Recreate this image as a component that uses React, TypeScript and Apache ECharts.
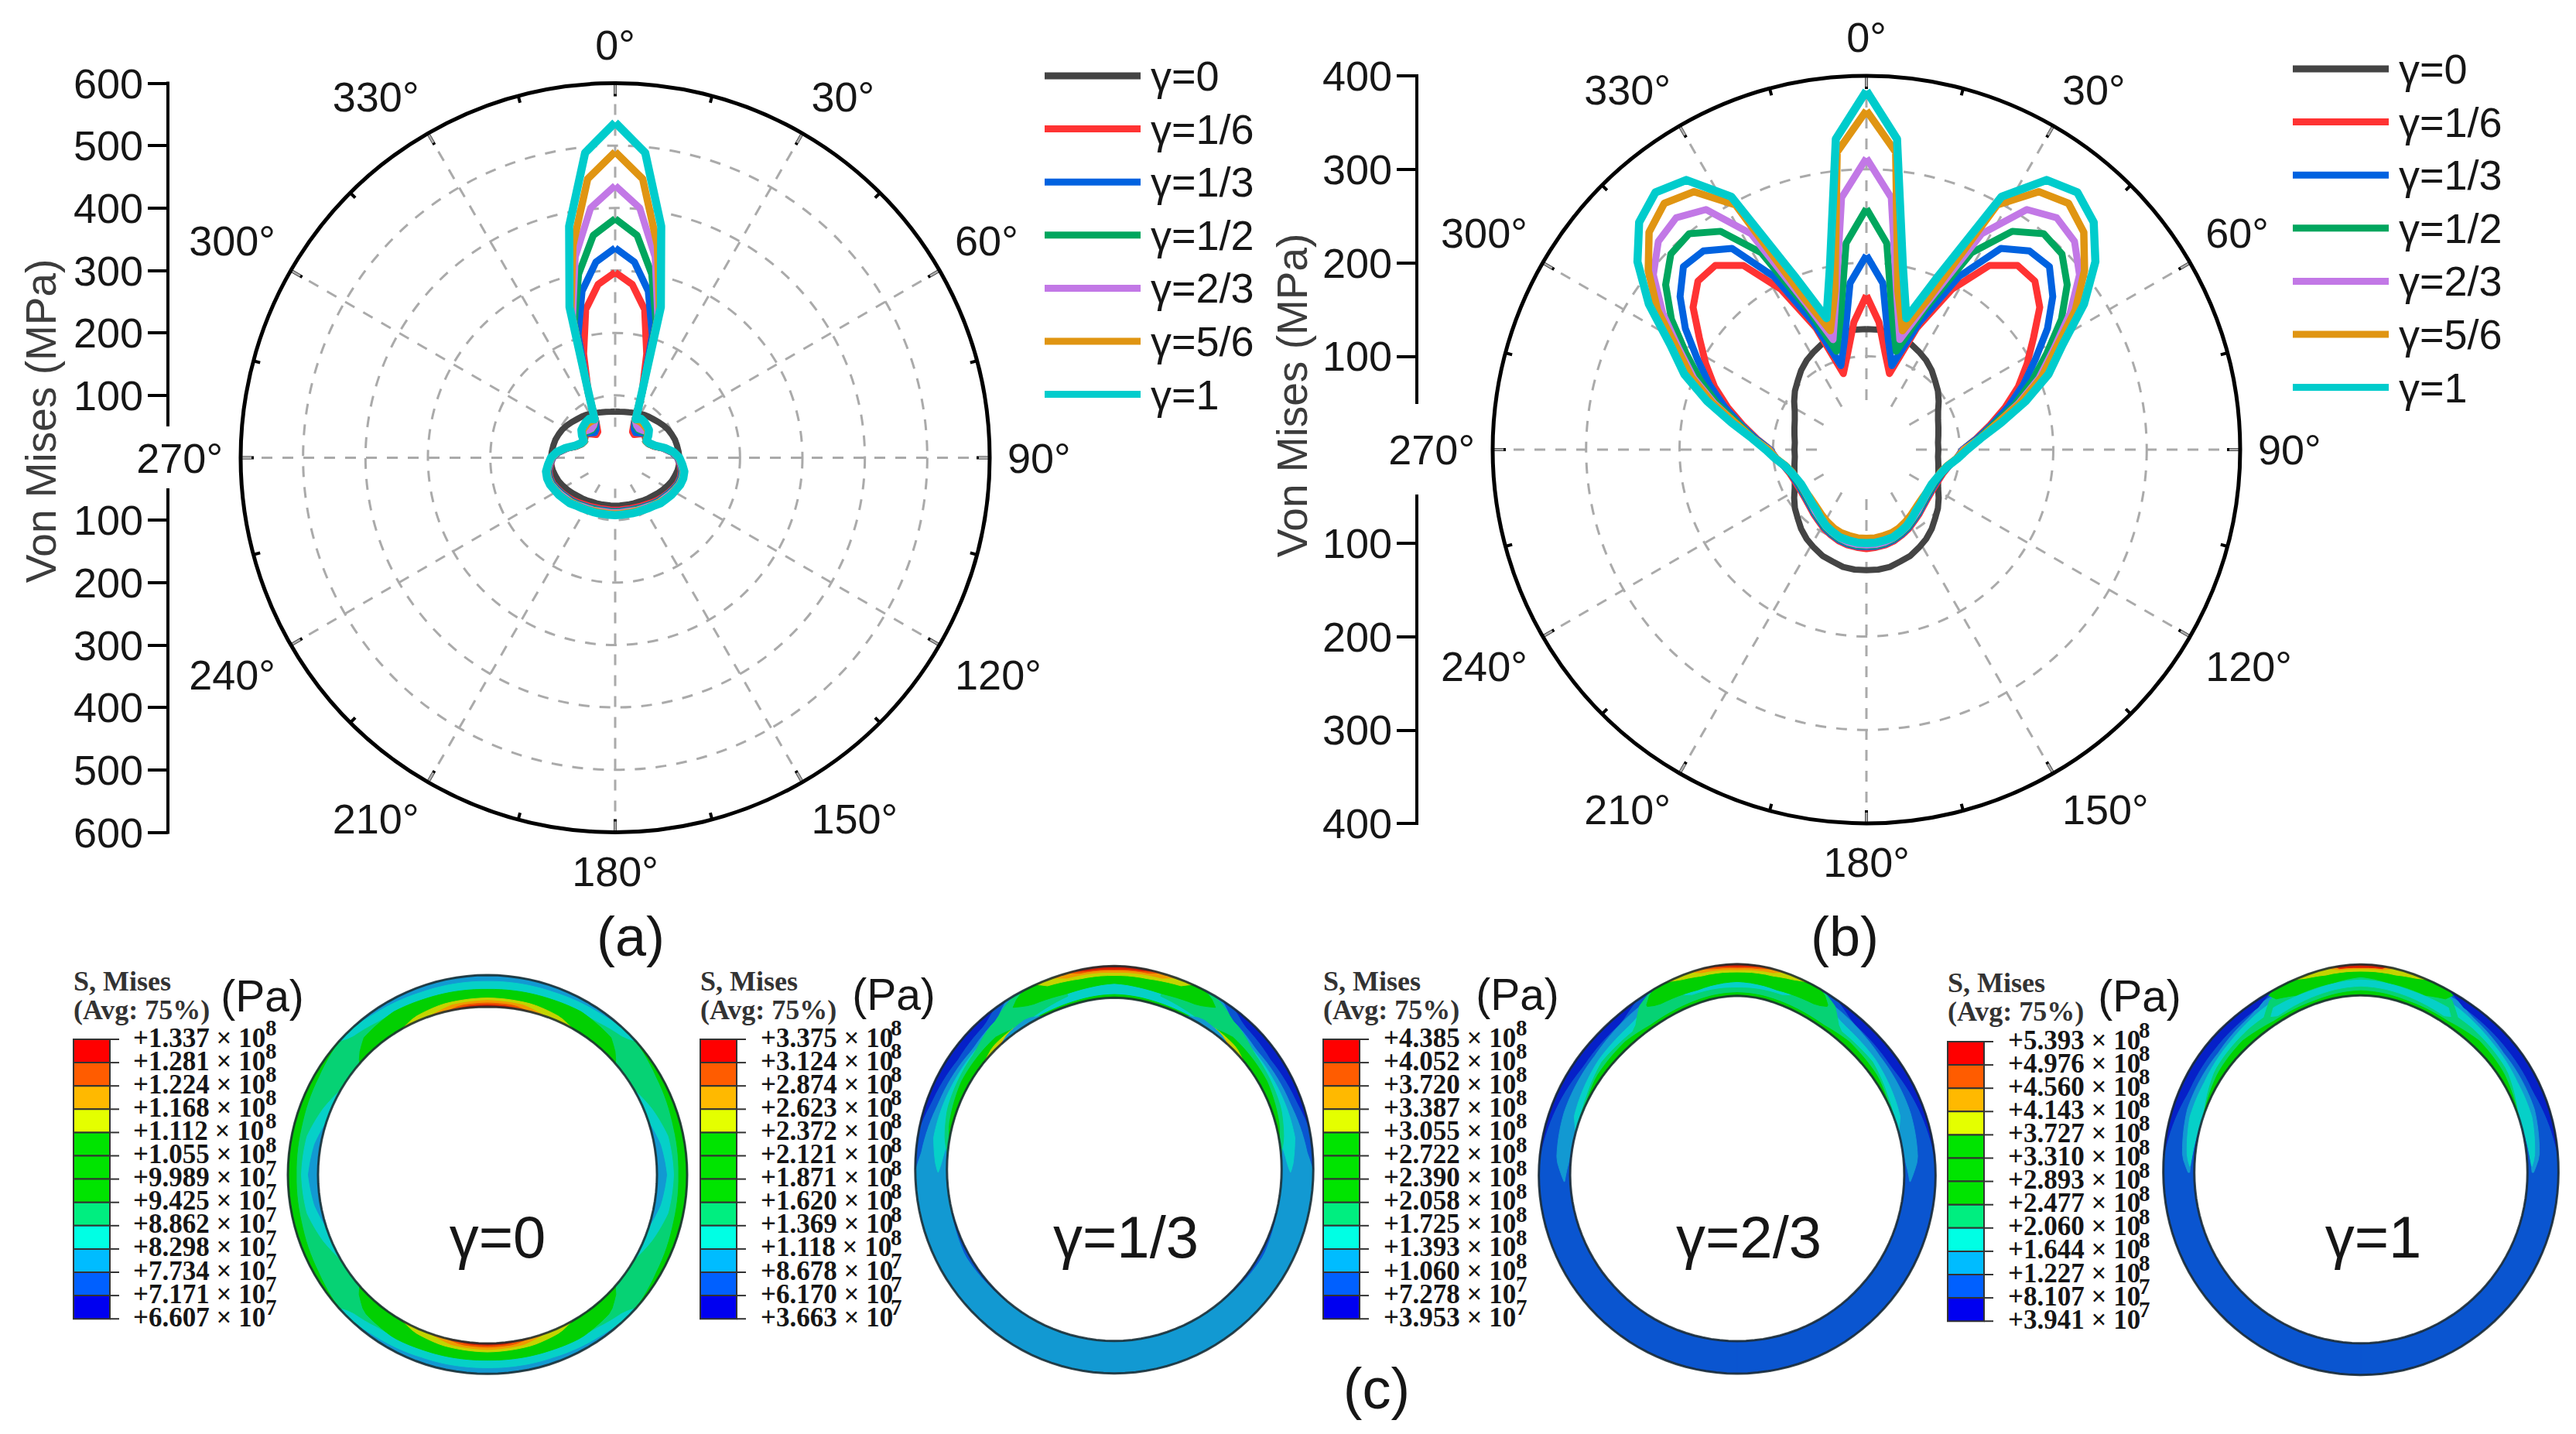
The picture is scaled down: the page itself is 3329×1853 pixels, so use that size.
import React, { useEffect, useRef } from "react";
import * as echarts from "echarts";

const seriesNames = ["γ=0", "γ=1/6", "γ=1/3", "γ=1/2", "γ=2/3", "γ=5/6", "γ=1"];
const seriesColors = ["#444444", "#ff3333", "#0062e0", "#00a65e", "#c278e6", "#e09512", "#00cccc"];
const seriesWidths = [8, 9, 9, 9, 9, 9.5, 10.5];

// half profile angles (deg); the measured curves are mirror-symmetric about 0-180 deg
const halfAngles = [0, 5.625, 11.25, 16.875, 22.5, 28.125, 33.75, 39.375, 45, 50.625, 56.25, 61.875, 67.5, 73.125, 78.75, 84.375, 90, 95.625, 101.25, 106.875, 112.5, 118.125, 123.75, 129.375, 135, 140.625, 146.25, 151.875, 157.5, 163.125, 168.75, 174.375, 180];

const panelA0 = [74, 74, 75, 76, 78, 80, 83, 85, 87, 90, 93, 96, 98, 100, 101, 102, 103, 103, 102, 100, 98, 95, 92, 89, 86, 84, 82, 80, 79, 78, 77, 77, 77];
const panelA16 = [297, 279, 242, 174, 112, 65, 50, 48, 54, 60, 58, 56, 58, 64, 78, 91, 100, 104, 108, 109, 108, 105, 102, 99, 96, 93, 90, 88, 86, 85, 84, 84, 84];
const panelA13 = [336, 315, 272, 205, 113, 66, 55, 52, 56, 62, 60, 56, 58, 65, 78, 91, 100, 105, 109, 110, 109, 106, 103, 100, 98, 95, 92, 90, 88, 87, 86, 86, 86];
const panelA12 = [383, 358, 300, 226, 112, 67, 60, 58, 60, 64, 60, 56, 58, 65, 79, 92, 101, 106, 110, 111, 110, 107, 104, 101, 99, 96, 93, 91, 89, 88, 87, 87, 87];
const panelA23 = [436, 402, 328, 235, 111, 68, 62, 60, 62, 66, 62, 56, 59, 66, 79, 92, 101, 106, 111, 112, 111, 108, 105, 102, 100, 97, 94, 92, 91, 89, 88, 88, 88];
const panelA56 = [490, 449, 347, 245, 111, 69, 70, 70, 69, 68, 62, 56, 59, 66, 80, 93, 102, 107, 112, 113, 112, 109, 107, 104, 101, 98, 96, 94, 92, 91, 90, 90, 90];
const panelA1 = [537, 491, 378, 252, 110, 70, 75, 74, 72, 70, 64, 57, 60, 67, 81, 94, 103, 108, 113, 114, 113, 110, 108, 105, 103, 99, 97, 95, 94, 93, 92, 92, 92];

const panelB0 = [129, 129, 128, 125, 123, 119, 115, 110, 104, 99, 93, 87, 83, 80.5, 78.5, 77, 77, 77, 78.5, 80.5, 83, 87, 93, 99, 104, 110, 115, 119, 123, 125, 128, 129, 129];
const panelB16 = [165, 137, 104, 85, 141, 195, 237, 255, 255, 240, 215, 195, 176, 155, 135, 118, 103, 97, 90, 86, 84, 83, 83, 84, 86, 89, 92, 96, 99, 102, 104, 105, 106];
const panelB13 = [208, 179, 120, 94, 147, 210, 259, 275, 277, 258, 233, 205, 182, 159, 137, 119, 103, 97, 90, 85, 83, 82, 82, 83, 85, 88, 91, 95, 98, 101, 103, 104, 104];
const panelB12 = [258, 222, 143, 110, 162, 239, 281, 299, 296, 278, 251, 219, 192, 166, 139, 121, 104, 97, 89, 85, 82, 81, 81, 82, 84, 87, 90, 94, 97, 100, 102, 103, 103];
const panelB23 = [312, 271, 167, 123, 170, 262, 309, 321, 315, 295, 262, 227, 200, 170, 142, 122, 104, 97, 89, 84, 81, 80, 80, 81, 83, 86, 89, 93, 96, 99, 101, 102, 102];
const panelB56 = [363, 320, 173, 133, 177, 297, 332, 341, 329, 302, 269, 230, 203, 172, 142, 122, 105, 97, 88, 83, 81, 79, 79, 79, 80, 82, 85, 88, 91, 93, 94, 95, 95];
const panelB1 = [384, 334, 200, 147, 201, 307, 347, 356, 344, 317, 280, 238, 211, 178, 147, 123, 108, 98, 89, 84, 81, 79, 79, 80, 82, 84, 88, 92, 95, 98, 99, 100, 100];

const panelAValues = [panelA0, panelA16, panelA13, panelA12, panelA23, panelA56, panelA1];
const panelBValues = [panelB0, panelB16, panelB13, panelB12, panelB23, panelB56, panelB1];

// contour legend columns (Pa): mantissa and power of ten
const mantissas1 = ["1.337", "1.281", "1.224", "1.168", "1.112", "1.055", "9.989", "9.425", "8.862", "8.298", "7.734", "7.171", "6.607"];
const exponents1 = [8, 8, 8, 8, 8, 8, 7, 7, 7, 7, 7, 7, 7];
const mantissas2 = ["3.375", "3.124", "2.874", "2.623", "2.372", "2.121", "1.871", "1.620", "1.369", "1.118", "8.678", "6.170", "3.663"];
const exponents2 = [8, 8, 8, 8, 8, 8, 8, 8, 8, 8, 7, 7, 7];
const mantissas3 = ["4.385", "4.052", "3.720", "3.387", "3.055", "2.722", "2.390", "2.058", "1.725", "1.393", "1.060", "7.278", "3.953"];
const exponents3 = [8, 8, 8, 8, 8, 8, 8, 8, 8, 8, 8, 7, 7];
const mantissas4 = ["5.393", "4.976", "4.560", "4.143", "3.727", "3.310", "2.893", "2.477", "2.060", "1.644", "1.227", "8.107", "3.941"];
const exponents4 = [8, 8, 8, 8, 8, 8, 8, 8, 8, 8, 8, 7, 7];

const legendCells = ["#ff0000", "#ff5c00", "#ffb900", "#e4ff00", "#00e400", "#00e400", "#00e400", "#00ee80", "#00ffe4", "#00bcff", "#0060ff", "#0000f0"];
const ringColors = ["#d81e00", "#ee5400", "#f09a00", "#c4d400", "#02d002", "#06d274", "#06d0c8", "#1299d2", "#0a55d0", "#0620c8"];

const ringKeys = [0, 8, 15, 25, 35, 50, 70, 90, 110, 135, 160, 180];
const ringOuter0 = [258, 258, 258, 258, 258, 258, 258, 258, 258, 258, 258, 257];
const ringInner0 = [217, 217, 218, 218, 219, 219, 219, 219, 219, 219, 218, 218];
const ringOuter13 = [264, 262, 260, 259, 259, 259, 258, 257, 258, 260, 263, 264];
const ringInner13 = [223, 221, 219, 218, 218, 218, 217, 216, 217, 219, 221, 222];
const ringOuter23 = [275, 272, 269, 263, 258, 256, 256, 256.5, 256, 256, 256, 256];
const ringInner23 = [234, 231, 227, 222, 218, 216, 216, 216, 215, 214, 214, 214];
const ringOuter1 = [270, 268, 265, 261, 259, 259, 257, 255, 256, 258, 261, 262];
const ringInner1 = [230, 228, 226, 222, 219, 218, 216, 215, 216, 218, 220, 221];

type Band = [number, number[][]];
// [colour index, [angle from top, inner fraction, outer fraction]...]
const bands0: Band[] = [
  [5, [[0, 0, 1], [180, 0, 1]]],
  [7, [[0, 0.76, 1], [20, 0.8, 1], [35, 0.88, 1], [42, 1, 1]]],
  [7, [[138, 1, 1], [145, 0.88, 1], [160, 0.8, 1], [180, 0.76, 1]]],
  [6, [[0, 0.55, 0.8], [20, 0.58, 0.82], [35, 0.62, 0.9], [45, 0.8, 1], [48, 1, 1]]],
  [6, [[132, 1, 1], [135, 0.8, 1], [145, 0.62, 0.9], [160, 0.58, 0.82], [180, 0.55, 0.8]]],
  [4, [[0, 0.15, 0.55], [20, 0.15, 0.58], [30, 0, 0.62], [42, 0, 0.5], [47, 0, 0.2], [49, 0, 0]]],
  [4, [[131, 0, 0], [133, 0, 0.2], [138, 0, 0.5], [150, 0, 0.62], [160, 0.15, 0.58], [180, 0.15, 0.55]]],
  [3, [[0, 0, 0.28], [15, 0, 0.25], [25, 0, 0.15], [30, 0, 0]]],
  [3, [[150, 0, 0], [155, 0, 0.15], [165, 0, 0.25], [180, 0, 0.28]]],
  [2, [[0, 0, 0.2], [12, 0, 0.16], [20, 0, 0]]],
  [2, [[160, 0, 0], [168, 0, 0.16], [180, 0, 0.2]]],
  [1, [[0, 0, 0.12], [9, 0, 0.1], [14, 0, 0]]],
  [1, [[166, 0, 0], [171, 0, 0.1], [180, 0, 0.12]]],
  [0, [[0, 0, 0.06], [7, 0, 0.05], [10, 0, 0]]],
  [0, [[170, 0, 0], [173, 0, 0.05], [180, 0, 0.06]]],
  [4, [[48, 1, 1], [60, 0.85, 1], [75, 0.75, 1], [90, 0.72, 1], [105, 0.75, 1], [120, 0.85, 1], [132, 1, 1]]],
  [6, [[60, 0, 0], [68, 0, 0.25], [78, 0, 0.5], [90, 0, 0.55], [102, 0, 0.5], [112, 0, 0.25], [120, 0, 0]]],
  [7, [[72, 0, 0], [80, 0, 0.2], [90, 0, 0.32], [100, 0, 0.2], [108, 0, 0]]],
];
const bands13: Band[] = [
  [7, [[0, 0, 1], [180, 0, 1]]],
  [6, [[0, 0, 0.5], [25, 0, 0.7], [40, 0, 0.45], [60, 0, 0.45], [80, 0.02, 0.5], [89, 0.2, 0.35], [91, 0.28, 0.28]]],
  [5, [[15, 0.3, 0.6], [30, 0.1, 1], [38, 0, 0.72], [50, 0, 0.42], [70, 0, 0.3], [80, 0, 0.14], [85, 0, 0]]],
  [4, [[0, 0.45, 0.72], [8, 0.4, 1], [15, 0.38, 1], [27, 0.48, 1], [30, 0.6, 0.85], [32, 0.7, 0.7]]],
  [4, [[0, 0, 0.1], [15, 0, 0.08], [32, 0, 0.05], [42, 0, 0.28], [60, 0, 0.25], [75, 0, 0.1], [80, 0, 0]]],
  [3, [[28, 0, 0], [35, 0, 0.15], [45, 0, 0.12], [50, 0, 0]]],
  [2, [[35, 0, 0], [40, 0, 0.07], [45, 0, 0]]],
  [3, [[0, 0.7, 1], [10, 0.72, 1], [20, 0.82, 1], [23, 1, 1]]],
  [2, [[0, 0.8, 1], [14, 0.85, 1], [18, 1, 1]]],
  [1, [[0, 0.87, 1], [11, 0.9, 1], [13, 1, 1]]],
  [0, [[0, 0.9, 1], [9, 0.93, 1], [11, 1, 1]]],
  [7, [[25, 0, 0], [30, 0, 0.18], [38, 0, 0.12], [42, 0, 0]]],
  [8, [[33, 1, 1], [38, 0.7, 1], [50, 0.55, 1], [70, 0.65, 1], [85, 0.85, 1], [90, 1, 1]]],
  [9, [[37, 1, 1], [42, 0.8, 1], [55, 0.72, 1], [70, 0.85, 1], [78, 1, 1]]],
  [8, [[105, 0, 0], [120, 0, 0.1], [140, 0, 0]]],
];
const bands23: Band[] = [
  [8, [[0, 0, 1], [180, 0, 1]]],
  [7, [[28, 0, 0.8], [35, 0, 0.75], [50, 0, 0.6], [70, 0, 0.55], [85, 0.05, 0.45], [92, 0.18, 0.2]]],
  [6, [[0, 0, 0.5], [25, 0, 0.7], [35, 0, 0.5], [50, 0, 0.42], [70, 0, 0.2], [75, 0, 0]]],
  [5, [[0, 0, 0.25], [15, 0, 0.3], [25, 0.1, 1], [30, 0, 0.8], [35, 0, 0.28], [50, 0, 0.3], [62, 0, 0.1], [70, 0, 0]]],
  [4, [[0, 0.45, 0.8], [12, 0.4, 1], [25, 0.5, 1], [28, 0.65, 0.7]]],
  [4, [[0, 0, 0.1], [25, 0, 0.1], [30, 0, 0.1], [40, 0, 0.2], [55, 0, 0.15], [65, 0, 0]]],
  [3, [[0, 0.75, 1], [10, 0.78, 1], [16, 0.88, 1], [20, 1, 1]]],
  [2, [[0, 0.82, 1], [10, 0.88, 1], [13, 1, 1]]],
  [1, [[0, 0.88, 1], [7, 0.92, 1], [10, 1, 1]]],
  [0, [[0, 0.92, 1], [5, 0.95, 1], [7, 1, 1]]],
  [9, [[30, 1, 1], [37, 0.75, 1], [55, 0.7, 1], [75, 0.9, 1], [85, 1, 1]]],
];
const bands1: Band[] = [
  [8, [[0, 0, 1], [180, 0, 1]]],
  [7, [[24, 0, 0.85], [30, 0, 0.85], [35, 0, 0.7], [50, 0.1, 0.55], [70, 0.15, 0.55], [85, 0.1, 0.4], [90, 0.15, 0.2]]],
  [6, [[0, 0, 0.55], [25, 0, 0.7], [32, 0, 0.65], [45, 0, 0.5], [60, 0, 0.4], [72, 0, 0.4], [85, 0.1, 0.25], [88, 0.15, 0.15]]],
  [5, [[0, 0, 0.6], [15, 0, 0.6], [27, 0, 0.85], [32, 0.1, 0.4], [38, 0, 0.4], [55, 0, 0.3], [65, 0, 0.1], [70, 0, 0]]],
  [6, [[0, 0.3, 0.5], [15, 0.25, 0.45], [28, 0.2, 0.5], [30, 0.3, 0.3]]],
  [4, [[0, 0, 0.15], [15, 0, 0.1], [30, 0, 0.12], [42, 0, 0.25], [55, 0, 0.18], [70, 0, 0]]],
  [4, [[0, 0.6, 0.8], [8, 0.5, 1], [20, 0.5, 1], [26, 0.7, 1], [28, 1, 1]]],
  [3, [[0, 0.78, 1], [10, 0.8, 1], [16, 0.9, 1], [19, 1, 1]]],
  [2, [[0, 0.86, 1], [7, 0.88, 1], [9, 1, 1]]],
  [0, [[0, 0.9, 1], [6, 0.92, 1], [7, 1, 1]]],
  [9, [[26, 1, 1], [32, 0.78, 1], [50, 0.72, 1], [65, 0.72, 1], [78, 0.9, 1], [85, 1, 1]]],
];

const FONT = "Liberation Sans";
const SERIF = "Liberation Serif";
const INK = "#161616";
const W = 3329;
const H = 1853;

const mirrored = (vals: number[]) => {
  const out: number[][] = vals.map((v, i) => [v, halfAngles[i]]);
  for (let i = vals.length - 2; i >= 0; i--) out.push([vals[i], 360 - halfAngles[i]]);
  return out;
};

const interp = (keys: number[], vals: number[], a: number) => {
  for (let i = 1; i < keys.length; i++) {
    if (a <= keys[i]) {
      const f = (a - keys[i - 1]) / (keys[i] - keys[i - 1]);
      return vals[i - 1] + f * (vals[i] - vals[i - 1]);
    }
  }
  return vals[vals.length - 1];
};

// averages the keyed radii over a few degrees, so that the ring outline stays round
const smoothRadius = (vals: number[], a: number) => {
  let sum = 0;
  const offsets = [-8, -4, 0, 4, 8];
  offsets.forEach((o) => {
    let x = a + o;
    if (x < 0) x = -x;
    if (x > 180) x = 360 - x;
    sum += interp(ringKeys, vals, x);
  });
  return sum / offsets.length;
};

const polarPanels = [
  { cx: 795, cy: 591.5, r: 484, max: 600, hub: 40, axisX: 217, gapTop: 551, gapBottom: 631, legendX: 1350, legendY: 68, titleX: 53, titleY: 544, values: panelAValues },
  { cx: 2412, cy: 581, r: 483, max: 400, hub: 55, axisX: 1831, gapTop: 522, gapBottom: 639, legendX: 2963, legendY: 59, titleX: 1670, titleY: 511, values: panelBValues },
];

const ringPanels = [
  { cx: 630, cy: 1518, outer: ringOuter0, inner: ringInner0, bands: bands0, barX: 95, barY: 1343, labelX: 172, supX: 343, paX: 339, paY: 1287, headY: 1268, gamma: "γ=0", gammaX: 643, mant: mantissas1, exp: exponents1 },
  { cx: 1440, cy: 1511, outer: ringOuter13, inner: ringInner13, bands: bands13, barX: 905, barY: 1343, labelX: 983, supX: 1151, paX: 1155, paY: 1285, headY: 1268, gamma: "γ=1/3", gammaX: 1455, mant: mantissas2, exp: exponents2 },
  { cx: 2245, cy: 1519, outer: ringOuter23, inner: ringInner23, bands: bands23, barX: 1710, barY: 1343, labelX: 1788, supX: 1959, paX: 1961, paY: 1285, headY: 1268, gamma: "γ=2/3", gammaX: 2260, mant: mantissas3, exp: exponents3 },
  { cx: 3051, cy: 1515, outer: ringOuter1, inner: ringInner1, bands: bands1, barX: 2517, barY: 1346, labelX: 2595, supX: 2764, paX: 2765, paY: 1287, headY: 1270, gamma: "γ=1", gammaX: 3067, mant: mantissas4, exp: exponents4 },
];

const buildOption = () => {
  const polar: any[] = [];
  const angleAxis: any[] = [];
  const radiusAxis: any[] = [];
  const grid: any[] = [];
  const xAxis: any[] = [];
  const yAxis: any[] = [];
  const legend: any[] = [];
  const series: any[] = [];
  const graphic: any[] = [];

  const text = (t: string, x: number, y: number, o: any = {}) => ({
    type: "text",
    silent: true,
    z: 10,
    rotation: o.rotation || 0,
    x,
    y,
    style: {
      text: t,
      x: 0,
      y: 0,
      fontFamily: o.family || FONT,
      fontSize: o.size || 54,
      fontWeight: o.weight || "normal",
      fill: o.color || INK,
      align: o.align || "left",
      verticalAlign: "middle",
    },
  });

  polarPanels.forEach((p, i) => {
    polar.push({ center: [p.cx, p.cy], radius: [0, p.r] });
    angleAxis.push({
      polarIndex: i,
      type: "value",
      min: 0,
      max: 360,
      interval: 30,
      startAngle: 90,
      clockwise: true,
      axisLine: { show: true, lineStyle: { color: "#000", width: 5 } },
      axisTick: { show: true, inside: true, length: 17, lineStyle: { color: "#000", width: 4 } },
      minorTick: { show: true, splitNumber: 2, length: 9, lineStyle: { color: "#000", width: 4 } },
      axisLabel: { show: true, margin: 23, fontSize: 54, fontFamily: FONT, color: INK, formatter: "{value}°" },
      splitLine: { show: true, lineStyle: { color: "#aaaaaa", width: 3, type: [14, 13] } },
      minorSplitLine: { show: false },
    });
    radiusAxis.push({
      polarIndex: i,
      type: "value",
      min: 0,
      max: p.max,
      interval: 100,
      axisLine: { show: false },
      axisTick: { show: false },
      axisLabel: { show: false },
      splitLine: { show: true, lineStyle: { color: "#aaaaaa", width: 3, type: [14, 13] } },
    });

    const ticks: number[] = [];
    for (let v = -p.max; v <= p.max; v += 100) if (v !== 0) ticks.push(v);
    grid.push({ left: p.axisX, top: p.cy - p.r, width: 50, height: 2 * p.r, show: false });
    xAxis.push({ gridIndex: i, type: "value", show: false, min: 0, max: 1 });
    yAxis.push({
      gridIndex: i,
      type: "value",
      position: "left",
      min: -p.max,
      max: p.max,
      interval: 100,
      axisLine: { show: false },
      axisTick: { show: true, length: 26, customValues: ticks, lineStyle: { color: "#000", width: 4 } },
      splitLine: { show: false },
      axisLabel: {
        show: true,
        margin: 32,
        fontSize: 54,
        fontFamily: FONT,
        color: INK,
        customValues: ticks,
        formatter: (v: number) => String(Math.abs(v)),
      },
    });
    graphic.push(
      { type: "circle", silent: true, z: 1, shape: { cx: p.cx, cy: p.cy, r: p.hub }, style: { fill: "#ffffff" } },
      { type: "line", silent: true, shape: { x1: p.axisX, y1: p.cy - p.r - 2, x2: p.axisX, y2: p.gapTop }, style: { stroke: "#000", lineWidth: 4 } },
      { type: "line", silent: true, shape: { x1: p.axisX, y1: p.gapBottom, x2: p.axisX, y2: p.cy + p.r + 2 }, style: { stroke: "#000", lineWidth: 4 } },
      text("Von Mises (MPa)", p.titleX, p.titleY, { rotation: Math.PI / 2, align: "center", color: "#3c3c3c", size: 55 })
    );

    legend.push({
      orient: "vertical",
      left: p.legendX,
      top: p.legendY,
      itemWidth: 124,
      itemHeight: 9,
      itemGap: 8.6,
      icon: "rect",
      selectedMode: false,
      padding: 0,
      data: seriesNames,
      textStyle: { fontSize: 54, fontFamily: FONT, color: INK, lineHeight: 60, padding: [0, 0, 0, 8] },
    });

    p.values.forEach((vals, k) => {
      series.push({
        name: seriesNames[k],
        type: "line",
        coordinateSystem: "polar",
        polarIndex: i,
        data: mirrored(vals),
        symbol: "none",
        smooth: false,
        silent: true,
        z: 5 + k,
        lineStyle: { color: seriesColors[k], width: seriesWidths[k], join: "round" },
        itemStyle: { color: seriesColors[k] },
      });
    });
  });

  ringPanels.forEach((ring, ri) => {
    const pi = polarPanels.length + ri;
    polar.push({ center: [ring.cx, ring.cy], radius: [0, 300] });
    angleAxis.push({ polarIndex: pi, type: "value", min: 0, max: 360, startAngle: 90, clockwise: true, show: false });
    radiusAxis.push({ polarIndex: pi, type: "value", min: 0, max: 300, show: false });
    const items = [...ring.bands.map((_, b) => [0, 0, b]), [0, 0, ring.bands.length]];
    const radiusAt = (theta: number, t: number) => {
      const r0 = smoothRadius(ring.inner, theta);
      const r1 = smoothRadius(ring.outer, theta);
      return r0 + t * (r1 - r0);
    };
    series.push({
      type: "custom",
      coordinateSystem: "polar",
      polarIndex: pi,
      silent: true,
      data: items,
      encode: { radius: 0, angle: 1 },
      renderItem: (params: any, api: any) => {
        const idx = params.dataIndex;
        if (idx === ring.bands.length) {
          const edge = (t: number) => {
            const pts: number[][] = [];
            for (let a = 0; a <= 360; a += 3) {
              const th = a <= 180 ? a : 360 - a;
              pts.push(api.coord([radiusAt(th, t), a]));
            }
            return { type: "polyline", shape: { points: pts }, style: { fill: "none", stroke: "#1c2a30", lineWidth: 3, opacity: 0.85 } };
          };
          return { type: "group", children: [edge(0), edge(1)] };
        }
        const [colorIdx, keys] = ring.bands[idx];
        const angs = keys.map((k) => k[0]);
        const t0s = keys.map((k) => k[1]);
        const t1s = keys.map((k) => k[2]);
        const thetas: number[] = [];
        for (let a = angs[0]; a < angs[angs.length - 1]; a += 2) thetas.push(a);
        thetas.push(angs[angs.length - 1]);
        const poly = (sideSign: number) => {
          const pts: number[][] = [];
          const ang = (th: number) => (sideSign > 0 ? th : 360 - th);
          thetas.forEach((th) => pts.push(api.coord([radiusAt(th, interp(angs, t1s, th)), ang(th)])));
          [...thetas].reverse().forEach((th) => pts.push(api.coord([radiusAt(th, interp(angs, t0s, th)), ang(th)])));
          const c = ringColors[colorIdx];
          return { type: "polygon", shape: { points: pts }, style: { fill: c, stroke: c, lineWidth: 1 } };
        };
        return { type: "group", children: [poly(1), poly(-1)] };
      },
    });

    // contour legend
    const cellH = 30.1;
    legendCells.forEach((c, k) => {
      graphic.push({
        type: "rect",
        silent: true,
        shape: { x: ring.barX, y: ring.barY + k * cellH, width: 47, height: cellH },
        style: { fill: c, stroke: "#333333", lineWidth: 2 },
      });
    });
    ring.mant.forEach((m, k) => {
      const y = ring.barY + k * cellH;
      graphic.push({
        type: "line",
        silent: true,
        shape: { x1: ring.barX + 47, y1: y, x2: ring.barX + 59, y2: y },
        style: { stroke: "#333333", lineWidth: 2 },
      });
      graphic.push(text(`+${m} × 10`, ring.labelX, y - 2, { family: SERIF, size: 35, weight: "bold" }));
      graphic.push(text(String(ring.exp[k]), ring.supX, y - 15, { family: SERIF, size: 29, weight: "bold" }));
    });
    graphic.push(
      text("S, Mises", ring.barX, ring.headY, { family: SERIF, size: 36, weight: "bold", color: "#333333" }),
      text("(Avg: 75%)", ring.barX, ring.headY + 37, { family: SERIF, size: 36, weight: "bold", color: "#333333" }),
      text("(Pa)", ring.paX, ring.paY, { size: 57, align: "center" }),
      text(ring.gamma, ring.gammaX, 1598, { size: 76, align: "center" })
    );
  });

  graphic.push(
    text("(a)", 815, 1210, { size: 72, align: "center" }),
    text("(b)", 2384, 1210, { size: 72, align: "center" }),
    text("(c)", 1779, 1794, { size: 74, align: "center" })
  );

  return {
    animation: false,
    backgroundColor: "#ffffff",
    polar,
    angleAxis,
    radiusAxis,
    grid,
    xAxis,
    yAxis,
    legend,
    series,
    graphic: { elements: graphic },
  };
};

export default function App() {
  const ref = useRef<HTMLDivElement>(null);
  useEffect(() => {
    document.body.style.margin = "0";
    const chart = echarts.init(ref.current!, undefined, { renderer: "svg" });
    chart.setOption(buildOption() as any);
    return () => chart.dispose();
  }, []);
  return <div ref={ref} style={{ width: W, height: H, position: "absolute", left: 0, top: 0 }} />;
}
